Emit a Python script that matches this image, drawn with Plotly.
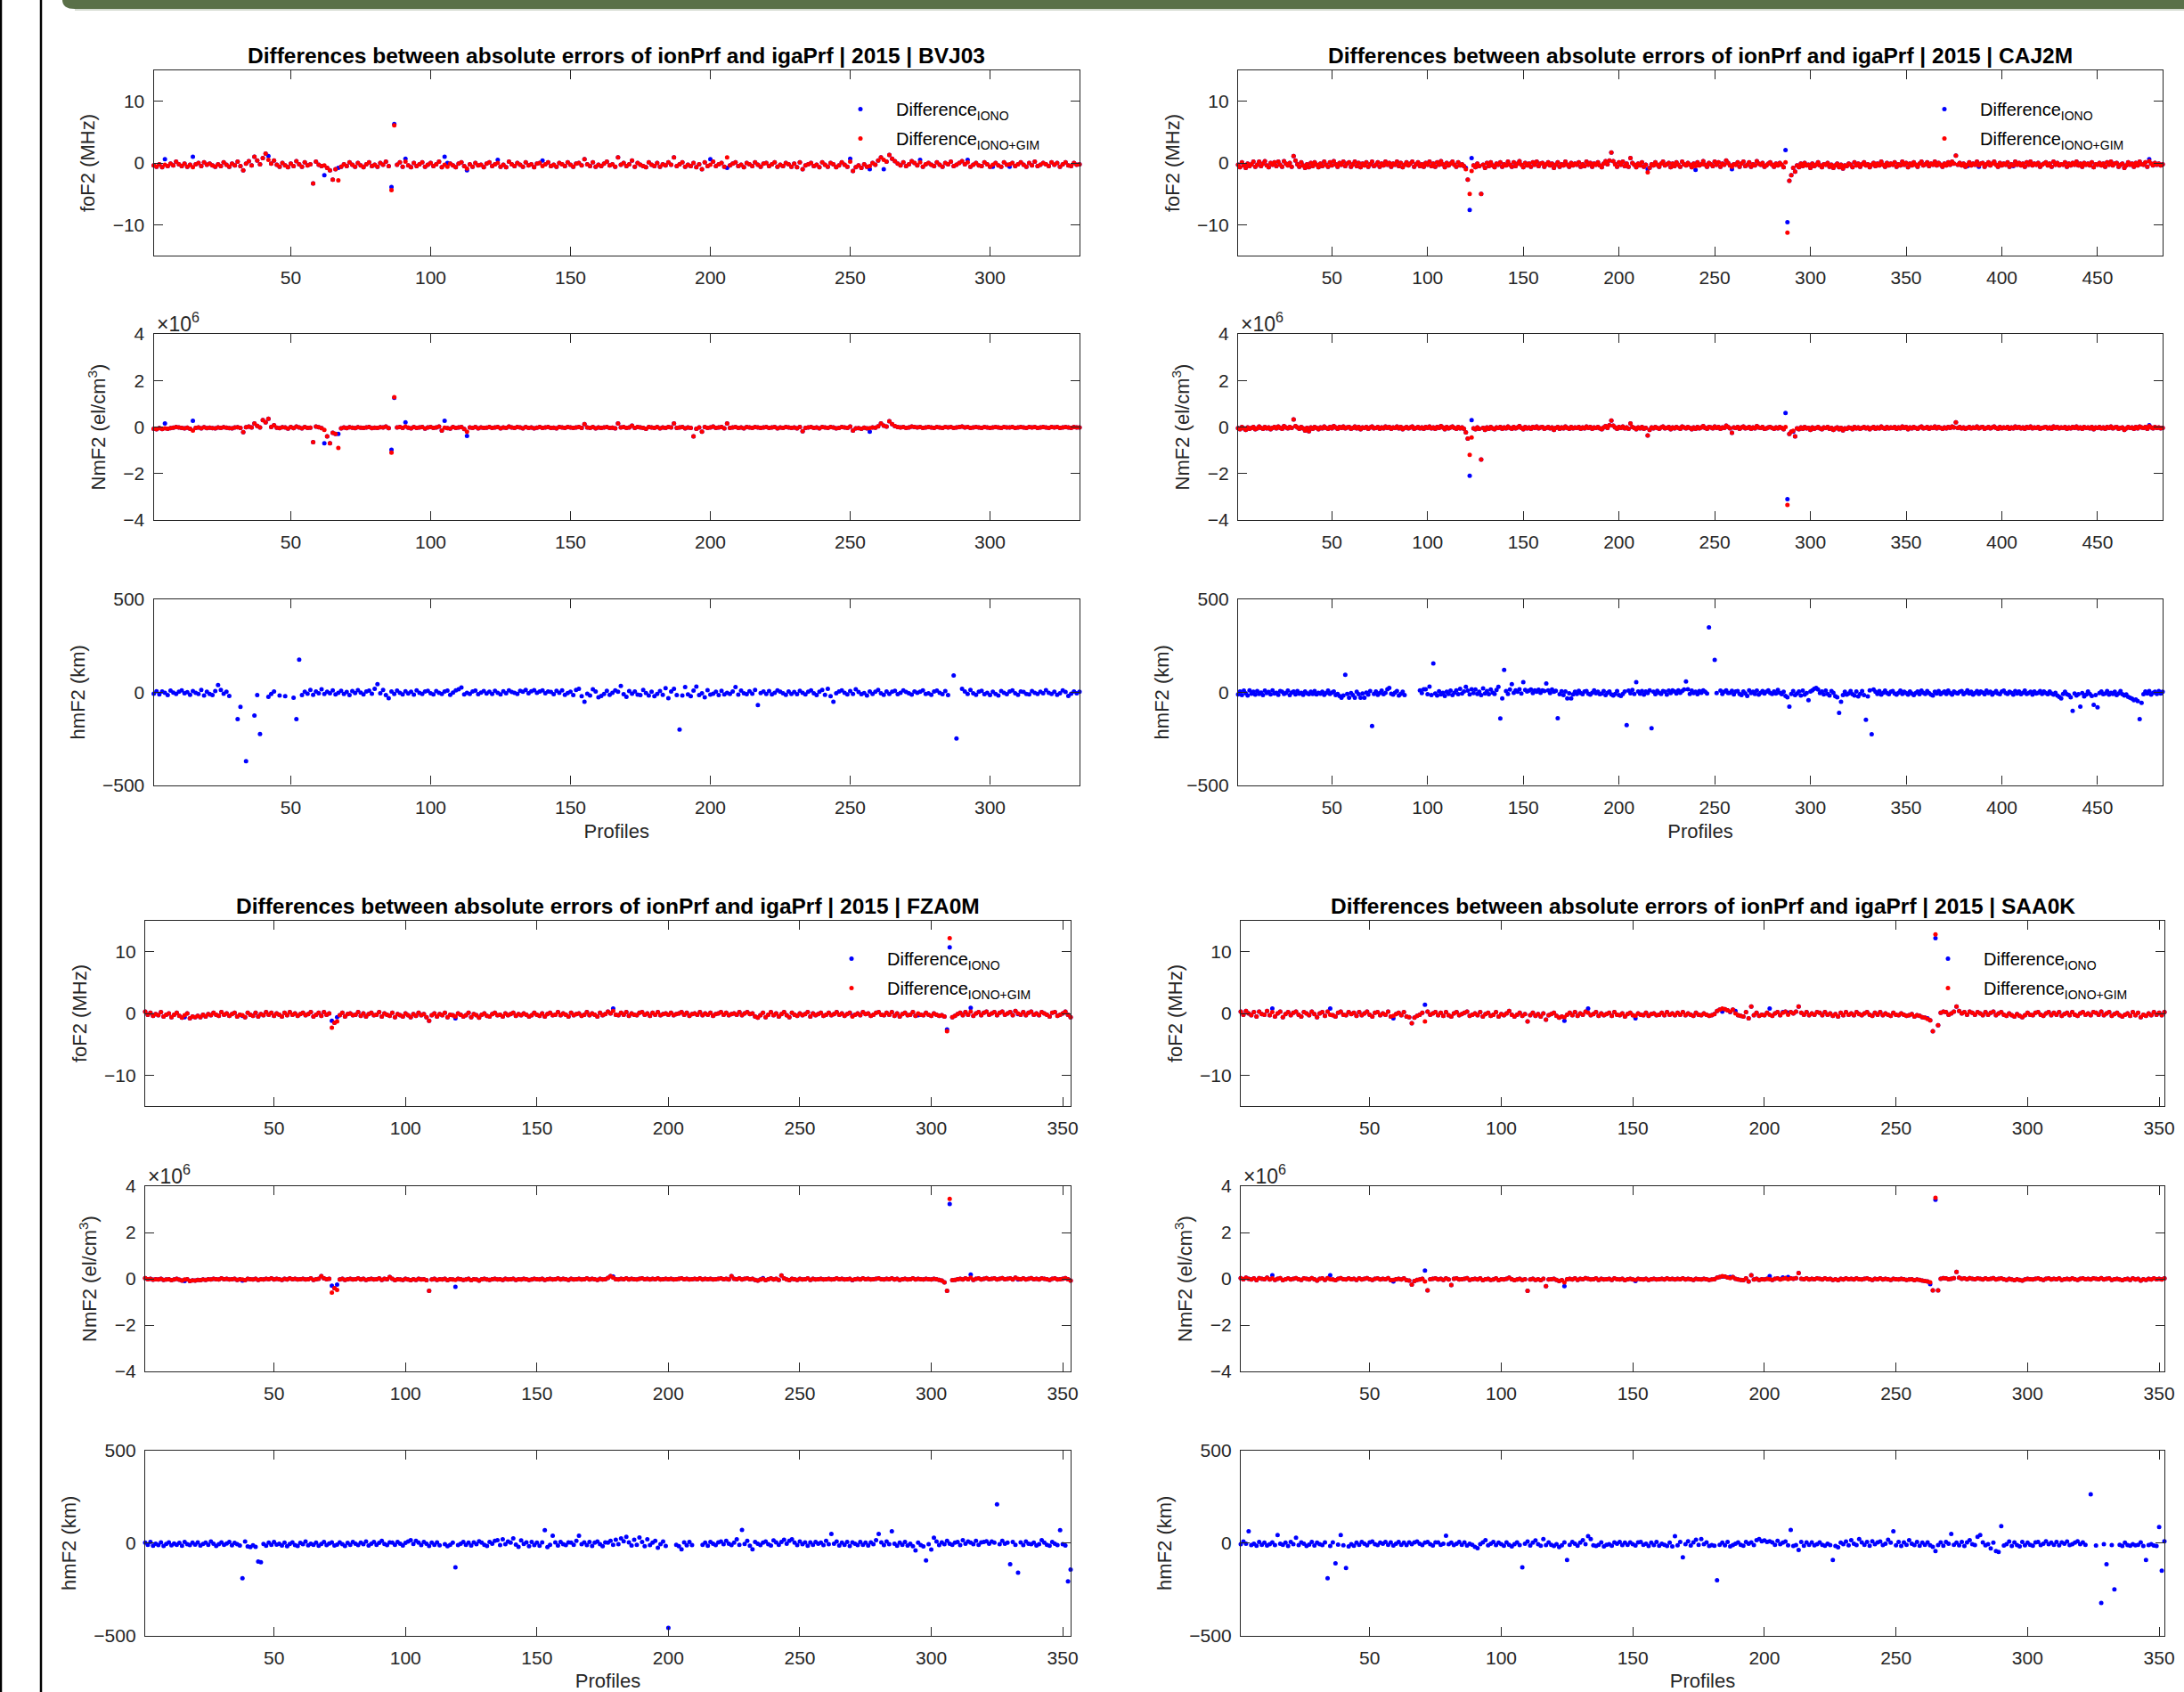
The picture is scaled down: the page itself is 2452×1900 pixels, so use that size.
import plotly.graph_objects as go

W, H = 2452, 1900
YEAR = 2015
STATIONS = ["BVJ03", "CAJ2M", "FZA0M", "SAA0K"]

# ---------------- DATA ----------------
# foF2 differences in 0.1 MHz, NmF2 differences in 0.01e6 el/cm3, hmF2 differences in km.
# *_GIM = Difference IONO+GIM (red). *_IONO_DIFF = profiles where Difference IONO (blue)
# is visibly different from the red value (elsewhere the two coincide).

BVJ03_FOF2_GIM = [
 -4,-6,-2,-7,-3,-5,-1,-4,2,-2,-5,-1,-6,-3,-7,-2,0,-5,1,-3,
 -1,-4,-6,-2,-5,1,-3,-6,-1,-4,2,-5,-12,-1,3,-4,10,4,-2,8,
 15,5,-1,4,-3,-6,0,-4,-7,-1,-5,3,-2,-6,1,-4,-2,-33,2,-3,
 -5,-4,-8,-12,-27,-10,-28,-6,-2,-5,1,-3,-6,0,-4,-7,-2,1,-5,-3,
 -6,0,-3,2,-5,-44,61,-3,1,-6,2,-4,-7,0,-5,-2,1,-6,-3,0,
 -5,-2,2,-7,-3,-6,-1,-4,-7,-1,1,-5,-9,-2,-6,0,-4,-3,-7,-1,
 1,-5,-2,0,-6,-3,-7,2,-2,-5,0,-3,-6,1,-4,-2,-7,-1,0,-5,
 -2,1,-5,-3,-6,0,-2,-5,1,-3,-6,-1,0,-4,6,-2,-5,1,-6,-3,
 -5,-1,2,-4,-2,-6,9,-3,0,-5,-2,4,-6,0,-3,-5,-7,1,-3,-5,
 0,-6,-2,-4,1,-3,9,-5,-2,1,-6,-3,-5,0,-7,-2,-10,1,-5,-3,
 2,-5,-2,0,-6,9,-4,-1,1,-5,-3,-7,0,-2,-5,1,-3,-6,-1,0,
 -5,-2,1,-6,-3,-5,0,-2,-6,-1,-7,1,-10,-4,-2,0,-5,-3,-7,1,
 -3,-6,0,-2,-7,-4,1,-3,-6,2,-13,-7,-4,-8,-2,-6,-5,0,-3,4,
 9,5,2,13,7,3,-1,-4,1,-5,-2,3,0,-4,1,-6,-2,0,-3,-5,
 1,-3,-6,0,-2,2,-5,-3,0,3,-2,1,-6,-3,0,-4,-5,1,-2,-6,
 -3,0,-4,-6,1,-3,-2,0,-5,-2,1,-3,-6,0,-4,2,-5,-3,0,-2,
 -5,1,-3,0,-6,-2,1,-4,-5,0,-3,-2]
BVJ03_FOF2_IONO_DIFF = {5: 6, 15: 10, 27: -3, 42: 11, 62: -20, 67: -8, 86: -39, 87: 63,
                        91: 7, 105: 10, 106: 0, 113: -12, 124: 5, 140: 4, 200: 6, 206: -8,
                        250: 7, 257: -10, 262: -10, 275: 5, 292: 5, 301: -6, 307: -6}
BVJ03_NMF2_GIM = [
 -8,-10,-5,-9,-6,-8,-5,-3,0,-2,-4,-6,-3,-8,-15,-4,-2,-6,-1,-5,
 -3,-5,-6,-2,-4,-1,-3,-5,-6,-2,-1,-4,-22,-1,2,-2,15,5,-2,30,
 20,35,0,8,-3,-5,-1,-2,-7,0,-5,2,-2,-6,0,-4,-3,-65,2,-1,
 -5,-12,-40,-70,-25,-30,-90,-6,-2,-5,-1,-3,-5,-1,-3,-4,-2,0,-5,-3,
 -4,-1,-2,2,-5,-110,128,-2,0,-4,2,-3,-6,0,-4,-2,0,-7,-2,0,
 -4,-2,2,-15,-3,-5,-7,0,-4,-2,0,-9,-20,-2,-4,0,-6,-2,-4,-3,
 0,-4,-2,0,-6,-2,-4,2,-2,-4,0,-2,-6,0,-4,-2,-6,-3,0,-4,
 -2,0,-4,-3,-6,0,-2,-4,0,-2,-4,-2,0,-4,12,-2,-4,0,-6,-2,
 -4,-2,0,-4,-3,-6,15,-2,0,-4,-2,6,-4,0,-2,-4,-8,0,-2,-4,
 0,-6,-2,-4,0,-2,15,-4,-2,0,-6,-2,-4,-40,-8,-2,-20,0,-4,-2,
 2,-4,-2,0,-6,15,-4,-2,0,-4,-2,-6,0,-2,-4,0,-2,-4,-2,0,
 -4,-2,0,-6,-2,-4,0,-2,-4,-2,-6,0,-18,-4,-2,0,-4,-2,-6,0,
 -2,-4,0,-2,-6,-4,0,-2,-4,2,-15,-6,-5,-8,-3,-6,-5,-2,-3,3,
 15,6,2,25,12,4,0,-2,0,-4,-2,2,0,-2,0,-4,-2,0,-2,-4,
 0,-2,-4,0,-2,0,-4,-2,0,2,-2,0,-4,-2,0,-2,-4,0,-2,-4,
 -2,0,-2,-4,0,-2,-2,0,-4,-2,0,-2,-4,0,-2,0,-4,-2,0,-2,
 -4,0,-2,0,-4,-2,0,-2,-4,0,-2,-2]
BVJ03_NMF2_IONO_DIFF = {5: 15, 15: 27, 62: -70, 67: -30, 86: -98, 87: 125, 91: 20,
                        105: 27, 113: -38, 257: -20}
BVJ03_HMF2 = [
 -8,5,-12,3,-4,-15,8,-2,-10,2,10,-6,0,-14,6,-3,-9,12,-18,2,
 -10,-16,6,38,12,-8,2,-20,None,None,-145,-79,None,-372,None,None,-126,-15,-225,None,
 None,-25,-10,4,None,-18,None,-22,None,None,-30,-145,175,-16,2,-8,12,-14,3,-6,
 15,-9,2,-6,10,-12,-3,7,-10,1,-15,6,-5,11,-2,-12,3,8,-8,18,
 43,-6,12,-15,-32,4,-9,8,-4,-12,5,-7,2,-13,9,-3,-10,3,7,-6,
 -12,6,-3,-10,4,8,-14,-2,10,15,25,-12,-4,-9,3,8,-11,-2,6,-7,
 2,-10,7,-4,-12,5,-6,10,1,-3,-9,7,2,12,-6,5,11,-4,3,9,
 -6,4,1,-11,7,-3,9,-14,-5,2,-16,12,18,-22,-51,-8,-18,15,3,-28,
 -20,-10,7,-14,-3,9,2,34,-11,-25,6,-8,3,-13,-16,12,-5,-18,2,-22,
 -10,6,-14,22,-32,3,18,-15,-202,-18,28,-12,-22,8,30,-15,-6,-28,11,-13,
 -8,2,-16,7,-12,-3,-10,3,28,-13,8,-6,-11,5,-8,12,-70,-5,3,-9,
 6,-12,-3,9,2,-6,-14,4,-9,1,-11,7,-3,-12,2,9,-6,-16,2,12,
 -14,18,-22,-51,-6,3,9,-4,-12,6,-9,15,1,-11,-5,-18,4,-9,2,12,
 -6,-14,4,-9,2,7,-11,-3,9,1,-6,-13,4,-4,2,10,-9,-6,-14,3,
 8,-4,-11,6,-16,None,90,-249,None,18,3,-9,12,-6,-14,2,7,-11,-4,-16,
 2,-9,-18,6,-4,-11,3,9,-6,-14,4,1,-9,-12,6,-3,-10,2,-6,11,
 -4,-9,2,-14,-6,9,1,-20,-8,4,-6,2]

CAJ2M_FOF2_GIM = [
 -3,-7,1,-4,-8,-1,-5,-2,2,-6,-3,2,-5,-1,3,-4,-7,0,-3,1,
 -5,2,-3,-6,3,-1,-4,0,-6,11,4,-2,-6,1,-4,-8,-2,-7,0,-5,
 1,-3,-7,-1,-5,2,-3,-6,1,-4,3,-2,-6,0,-3,2,-5,-1,1,-6,
 -2,2,-5,0,-7,-1,-4,1,-6,-2,2,-5,-3,1,-6,-1,-4,2,-3,0,
 -6,-1,-3,2,-5,0,-7,-3,1,-4,-1,2,-6,-2,1,-5,-2,-6,0,-3,
 2,-5,-1,-6,1,-3,3,-2,-7,0,-4,-1,2,-3,-6,1,-4,-2,-5,-10,
 -27,-50,-13,-4,-7,-1,-5,-50,-3,-8,0,-5,1,-4,-7,-1,-3,1,-6,-2,
 -4,2,-3,-6,1,-5,-1,3,-3,-7,0,-4,-1,-6,1,-3,2,-5,-1,0,
 -6,-2,1,-4,-1,-8,-3,1,-6,-2,-4,2,-3,-6,0,-4,-1,-3,1,-6,
 -2,-5,2,-3,0,-6,-1,-3,1,-4,-7,-1,3,-2,4,17,3,-2,-6,1,
 -3,2,-5,-1,-6,8,0,-3,-7,-1,-4,1,-6,-3,-15,-8,-2,-4,1,-3,
 -6,-1,2,-4,-2,0,-7,-1,-5,1,-3,-6,2,-2,-4,0,-3,-7,-1,-5,
 1,-4,-2,3,-3,-6,0,-2,-5,2,-3,1,-6,-1,-3,4,0,-4,-6,-2,
 -3,1,-6,-1,2,-5,-3,1,-6,-2,-4,3,-1,-3,0,-6,-4,-1,1,-3,
 -6,-1,-4,0,-3,-7,1,-113,-29,-20,-8,-14,-4,-7,-1,-5,0,-4,-3,-8,
 -1,-5,-3,1,-4,-7,-2,-3,0,-6,-3,-8,-4,-1,-7,-3,-9,-4,-5,-1,
 -3,-7,1,-4,-1,-6,-2,1,-4,-2,-7,-3,0,-5,-1,-4,2,-3,-6,0,
 -4,-1,-3,1,-6,-2,-4,2,-3,0,-7,-1,-4,1,-3,-6,-1,2,-4,-2,
 1,-5,-1,-3,2,-4,0,-3,-6,-1,-4,1,-3,2,-1,12,-3,0,-4,-1,
 -6,-3,1,-4,-1,-3,2,-4,-1,0,-6,-2,1,-4,-1,2,-3,-6,0,-4,
 -1,-3,1,-6,-2,-4,2,-3,0,-4,-1,-6,1,-3,2,-4,-1,-3,0,-6,
 -3,-1,1,-4,-1,-6,2,-3,0,-4,-2,-3,1,-6,-1,-4,0,-3,2,-4,
 -1,-6,0,-3,-1,-4,1,-7,-2,-3,0,-4,-1,-6,1,-3,2,-4,-1,0,
 -6,-3,-1,-8,-4,1,-3,-1,-6,0,-4,2,-2,-3,1,-6,3,-1,-4,0,
 -3,-1,-4,-2]
CAJ2M_FOF2_IONO_DIFF = {25: 3, 120: -8, 122: -76, 123: 8, 152: -4, 158: -5, 215: -10,
                        240: -11, 259: -10, 287: 21, 288: -96, 291: -8, 382: -5, 388: -6,
                        406: -5, 464: -8, 477: 6}
CAJ2M_NMF2_GIM = [
 -5,-10,0,-6,-12,-2,-8,-4,0,-10,-6,2,-4,-8,0,-6,-2,-10,-4,0,
 -6,2,-4,-8,4,-2,-6,0,-4,33,4,-2,-8,0,-6,-15,-4,-18,-2,-8,
 0,-4,-10,-2,-6,2,-4,-8,0,-6,4,-2,-8,0,-4,2,-6,-2,0,-8,
 -4,2,-6,0,-10,-2,-4,0,-8,-2,2,-6,-4,0,-8,-2,-6,2,-4,0,
 -8,-2,-4,2,-6,0,-10,-4,0,-6,-2,2,-8,-4,0,-6,-2,-8,0,-4,
 2,-6,-2,-8,0,-4,4,-2,-10,0,-6,-2,2,-4,-8,0,-6,-2,-8,-23,
 -50,-120,-45,-6,-10,-2,-8,-140,-4,-12,-2,-8,0,-6,-10,-2,-4,0,-8,-2,
 -6,2,-4,-8,0,-6,-2,4,-4,-10,0,-6,-2,-8,0,-4,2,-6,-2,0,
 -8,-4,0,-6,-2,-12,-4,0,-8,-2,-6,2,-4,-8,0,-6,-2,-4,0,-8,
 -2,-6,2,-4,0,-8,-2,-4,0,-6,-10,-2,4,-4,8,28,6,-2,-8,0,
 -4,2,-6,-2,-8,15,0,-4,-10,-2,-6,0,-8,-4,-36,-12,-2,-6,0,-4,
 -8,-2,2,-6,-4,0,-10,-2,-6,0,-4,-8,2,-2,-6,0,-4,-10,-2,-8,
 0,-6,-2,4,-4,-8,0,-2,-6,2,-4,0,-8,-2,-4,6,0,-6,-25,-2,
 -4,0,-8,-2,2,-6,-4,0,-8,-2,-6,4,-2,-4,0,-8,-6,-2,0,-4,
 -8,-2,-6,0,-4,-10,0,-335,-30,-20,-16,-40,-6,-10,-2,-8,0,-6,-4,-12,
 -2,-8,-4,0,-6,-10,-2,-4,0,-8,-4,-12,-6,-2,-10,-4,-14,-6,-8,-2,
 -4,-10,0,-6,-2,-8,-4,0,-6,-2,-10,-4,0,-8,-2,-6,2,-4,-8,0,
 -6,-2,-4,0,-8,-2,-6,2,-4,0,-10,-2,-6,0,-4,-8,-2,2,-6,-4,
 0,-8,-2,-4,2,-6,0,-4,-8,-2,-6,0,-4,2,-2,20,-4,0,-6,-2,
 -8,-4,0,-6,-2,-4,2,-6,-2,0,-8,-4,0,-6,-2,2,-4,-8,0,-6,
 -2,-4,0,-8,-2,-6,2,-4,0,-6,-2,-8,0,-4,2,-6,-2,-4,0,-8,
 -4,-2,0,-6,-2,-8,2,-4,0,-6,-2,-4,0,-8,-2,-6,0,-4,2,-6,
 -2,-8,0,-4,-2,-6,0,-10,-2,-4,0,-6,-2,-8,0,-4,2,-6,-2,0,
 -8,-4,-2,-12,-6,0,-4,-2,-8,0,-6,2,-2,-4,0,-8,4,-2,-6,0,
 -4,-2,-6,-4]
CAJ2M_NMF2_IONO_DIFF = {122: -210, 123: 30, 287: 60, 288: -310, 291: -20, 477: 8}
CAJ2M_HMF2 = [
 -12,3,-15,8,-6,-18,10,-8,2,-13,6,-10,-2,-16,8,-5,1,-12,9,-7,
 -3,-14,6,2,-10,-5,8,-15,-2,3,-12,6,-8,-3,-14,4,-6,-11,2,-9,
 6,-12,-3,-8,2,-14,-5,8,-10,-2,3,-16,-10,-20,-30,-18,93,-9,-30,-5,
 -15,-30,2,-11,-30,-7,-30,-2,-13,6,-182,-9,3,-14,-5,8,-11,-3,15,23,
 -8,-13,-2,6,-18,-9,2,-15,None,None,None,None,None,None,None,10,-5,15,15,-11,
 30,-15,155,-7,-18,5,-12,-3,-20,2,-9,8,-15,-4,10,-11,18,-7,3,29,
 8,-12,15,-5,14,-9,2,-15,20,-7,6,-11,14,-2,-9,12,29,-141,-33,120,
 6,-9,14,43,-4,10,2,15,-7,54,12,3,8,14,-5,10,2,13,-3,9,
 6,47,10,-5,14,2,7,-140,-11,5,-15,3,-33,-6,-33,-12,2,-9,7,-5,
 -11,3,6,-8,-13,-3,9,-6,2,-11,-7,6,-15,-3,3,-12,-18,-9,6,-15,
 -20,-10,3,-178,8,-6,12,-9,54,3,-8,6,-13,4,-5,9,-194,2,-11,7,
 -3,-9,6,2,-13,8,-5,10,3,-7,9,-3,6,14,58,15,-9,8,-5,2,
 -11,6,-3,9,2,-7,349,None,None,174,-5,None,8,-9,2,10,-5,-3,7,-12,
 3,6,-9,-15,4,-7,-20,10,-5,2,-9,8,-13,-3,6,-7,2,10,-5,-9,
 4,-7,12,-3,-11,2,-20,-28,-78,-9,6,-15,-7,3,-18,8,-13,-5,-43,3,
 10,18,23,14,-5,3,-12,8,-9,-18,6,-3,-22,-28,-112,-52,-15,2,-13,-7,
 6,-11,-18,3,-23,-9,6,-15,-149,-23,10,-227,14,2,-9,6,-13,-3,8,-5,
 -11,2,6,-7,-13,-3,8,-9,2,-5,-13,4,-7,-15,-5,3,-11,8,-3,-9,
 6,-5,-13,-18,2,-7,6,-11,-3,3,-9,8,-5,-13,4,-3,-7,2,6,-11,
 -3,9,-7,2,-13,-5,6,-9,3,-2,-11,8,-5,2,-13,-3,6,-7,-11,3,
 8,-5,-9,2,-3,-13,6,-7,3,-11,-3,8,-9,-5,2,-13,4,-7,-3,6,
 -9,3,-5,-11,4,-7,-13,-3,-18,-25,-33,-9,2,-11,-15,-28,-101,-7,-18,-11,
 -78,-5,-23,-13,3,-9,-20,-68,-15,-81,-5,3,-11,-7,6,-13,-3,-9,2,-15,
 -7,6,-11,-18,-12,-25,-30,-35,-43,-40,-48,-145,-58,-11,3,-7,6,-13,-3,2,
 -9,6,-7,2]

FZA0M_FOF2_GIM = [
 3,-2,1,-4,-1,-3,2,-5,-2,0,-6,-2,1,-4,-7,-3,0,-8,-5,-6,
 -4,-6,-2,-5,-1,-3,1,-2,-4,2,-2,0,-4,-1,1,-5,-2,-3,-6,1,
 -2,-4,1,-5,-1,-3,2,-2,1,-4,0,-2,-5,1,-3,2,-2,0,-4,-1,
 1,-3,-1,2,-5,-2,1,-4,2,-2,0,-23,-15,-13,-3,1,-5,-1,0,-3,
 -2,2,-4,0,-5,-1,1,-3,-2,2,-5,0,-2,-4,1,-6,-1,-3,-5,0,
 -3,-6,-1,-4,1,-3,-1,-6,-12,-3,0,-5,-1,-3,1,-6,-2,-3,-5,0,
 -2,-5,-3,1,-6,-1,-3,-7,-2,0,-4,-5,-1,1,-3,-2,-5,0,-3,-1,
 1,-4,-1,-3,0,-2,-5,-3,1,-2,-4,0,-5,-1,1,-3,-2,2,-3,0,
 -2,-5,1,-3,-1,0,-4,-2,2,-3,0,-2,-5,1,-3,-1,3,0,4,-2,
 -3,1,-2,2,-4,0,-2,-3,1,2,-2,0,-4,1,-2,2,-3,-1,0,-2,
 1,-3,-1,0,2,-2,1,-4,-1,0,-2,2,-3,0,-2,1,-4,-1,0,2,
 -2,1,-3,-1,0,-2,2,-3,0,2,-1,0,-5,-7,-3,1,-6,-2,2,-3,
 0,-5,-1,2,-3,-6,1,-2,-4,0,-3,-1,2,-5,0,-3,-1,1,-4,-2,
 1,-3,-1,2,-2,0,-4,-1,1,-5,-2,0,-3,2,-1,0,-4,-2,1,2,
 -2,-3,1,-2,2,-4,0,-5,-1,1,-3,-2,2,-4,0,-2,-3,1,-2,-4,
 0,-2,-4,-3,-5,-29,122,-6,-4,-1,1,-3,2,-2,3,-4,0,2,-3,1,
 3,-2,0,2,-3,1,3,-2,0,2,-3,4,0,-2,2,-3,1,3,-2,0,
 -3,2,0,-2,-5,1,2,-4,-2,0,3,-2,-6]
FZA0M_FOF2_IONO_DIFF = {16: -6, 38: -4, 72: -12, 74: -6, 119: -8, 179: 8, 236: 1,
                        270: -4, 295: -3, 306: -26, 307: 107, 315: 9, 333: -1}
FZA0M_NMF2_GIM = [
 3,-2,0,-4,-2,-3,0,-5,-3,-2,-6,-3,0,-4,-8,-3,-2,-10,-7,-8,
 -5,-6,-3,-5,-2,-3,0,-2,-3,2,-2,0,-3,-2,0,-5,-2,-3,-6,0,
 -2,-3,0,-5,-2,-3,0,-2,2,-3,0,-2,-5,0,-3,2,-2,0,-3,-2,
 0,-3,-2,2,-5,-2,0,12,2,-2,0,-60,-40,-48,-3,0,-5,-2,0,-3,
 -2,2,-3,0,-5,-2,0,-3,-2,2,-5,0,-2,8,0,-6,-2,-3,-5,0,
 -3,-6,-2,-5,0,-3,-2,-6,-52,-3,0,-5,-2,-3,0,-6,-2,-3,-5,0,
 -2,-5,-3,0,-6,-2,-3,-8,-2,0,-3,-5,-2,0,-3,-2,-5,0,-3,-2,
 0,-5,-2,-3,0,-2,-5,-3,0,-2,-3,0,-5,-2,0,-3,-2,2,-3,0,
 -2,-5,0,-3,-2,0,-3,-2,2,-3,0,-2,-5,0,-3,-2,4,12,5,-2,
 -3,0,-2,2,-3,0,-2,-3,0,2,-2,0,-3,0,-2,2,-3,-2,0,-2,
 0,-3,-2,0,2,-2,0,-3,-2,0,-2,2,-3,0,-2,0,-3,-2,0,2,
 -2,0,-3,12,0,-2,2,-3,0,2,-2,0,-5,-8,-3,0,-6,-2,2,-3,
 0,-5,14,2,-3,-6,0,-2,-5,0,-3,-2,2,-5,0,-3,-2,0,-3,-2,
 0,-3,-2,2,-2,0,-3,-2,0,-5,-2,0,-3,2,-2,0,-3,-2,0,2,
 -2,-3,0,-2,2,-3,0,-5,-2,0,-3,-2,2,-3,0,-2,-3,0,-2,-3,
 0,-2,-5,-8,-15,-52,345,-6,-5,-2,0,-3,2,-2,5,-5,0,2,-3,0,
 3,-2,0,2,-3,0,3,-2,0,2,-3,5,0,-2,2,-3,0,3,-2,0,
 -3,2,0,-2,-5,0,2,-3,-2,0,3,-2,-8]
FZA0M_NMF2_IONO_DIFF = {16: -10, 38: -8, 72: -30, 74: -25, 119: -35, 179: 10, 236: 3,
                        270: -6, 307: 323, 315: 18, 333: -3}
FZA0M_HMF2 = [
 2,-9,6,-14,-3,-11,3,-16,-5,4,-12,-2,-9,1,-14,6,-6,-11,2,-8,
 4,-13,-5,2,-10,8,-3,-15,-6,3,-9,-2,6,-12,1,-6,-13,-189,8,-18,
 -22,-12,-20,-100,-103,-5,-14,2,-10,6,-8,-3,-13,2,-17,-5,4,-11,-15,1,
 -6,8,-12,-3,-9,2,-14,-5,6,-11,-2,3,-13,-8,4,-6,-15,1,-9,6,
 -3,-11,2,-6,8,-13,-3,6,-9,1,12,-5,-11,4,2,-9,6,-3,-13,1,
 8,15,-5,12,2,-11,6,-3,-15,2,-9,4,-12,None,-6,-17,-9,2,-131,-11,
 -3,6,-9,2,-13,4,-6,10,2,-9,-15,6,-3,12,16,-11,20,-6,8,2,
 25,-8,-20,14,-5,3,-17,6,-11,2,-14,4,69,-22,-9,40,3,-13,6,-6,
 -11,4,2,-9,12,40,-6,3,-11,6,-15,2,8,-6,-17,4,2,12,-9,18,
 -6,25,10,34,3,-13,18,-9,30,6,-17,20,-11,2,12,-25,-6,8,-15,-457,
 None,None,-9,-17,-34,3,-12,6,-11,None,None,None,-9,2,-14,6,-4,-11,3,8,
 -6,12,-3,-11,2,20,-9,71,-5,12,-14,-34,6,-3,-11,2,8,-6,-13,14,
 3,-9,6,18,-3,12,20,2,-11,8,-6,3,-14,4,-9,6,-3,2,-11,12,
 -6,49,-3,8,-13,2,-9,6,-15,3,-3,-11,6,-9,2,-13,4,-6,15,49,
 3,-11,8,-6,63,-3,-14,2,-9,6,-13,-3,-17,-40,2,-11,-18,-94,-6,-35,
 29,8,-11,3,-6,12,-3,-9,2,6,-11,15,-3,8,2,-6,12,-9,3,6,
 10,-3,8,2,209,-6,12,-3,2,-114,6,-9,-160,3,-11,8,-3,-6,2,-13,
 -6,15,2,-9,-14,6,-3,-11,69,-6,-13,-206,-143]

SAA0K_FOF2_GIM = [
 3,-2,4,0,-3,2,-5,3,-1,-2,4,-3,2,-5,0,3,-6,-1,2,-3,
 1,3,-2,-5,2,0,-3,3,-1,-6,0,2,-4,3,-2,-3,-5,1,3,-2,
 -3,2,-1,1,-4,2,-3,0,3,-2,-5,1,2,-3,0,-2,3,-5,-4,-1,
 1,-3,2,-5,-6,-16,-7,-4,-2,1,-13,3,-2,0,2,-3,1,-4,2,-3,
 -5,0,2,-3,-1,1,3,-4,-2,0,-3,2,-5,-1,1,-4,-2,2,-5,-1,
 -3,0,4,-2,-5,-2,1,-4,-1,-13,-3,1,-4,-1,-5,0,-10,-3,-1,1,
 -4,-7,-5,-6,-2,1,-3,2,-4,0,-2,3,1,-3,-1,2,-4,0,-3,-1,
 1,-4,2,-2,-3,0,-5,-1,1,-3,-4,0,-2,-3,1,-4,-1,0,-3,-2,
 1,-3,2,-2,0,-3,1,-2,2,-3,0,-2,-4,1,-2,-3,0,-2,-4,-3,
 -1,4,6,8,7,5,3,6,0,-3,-4,-5,2,-8,11,-3,1,-4,-2,-3,
 1,-2,-4,0,2,-3,1,3,-2,2,0,3,11,1,-2,2,-3,0,-2,2,
 1,-3,2,-2,0,-4,-1,-5,1,-3,2,-2,0,-3,2,-1,-3,0,2,-2,
 -4,1,-2,2,-3,0,-2,-4,1,-2,-3,0,-2,-4,-3,-1,-5,-3,-4,-6,
 -7,-9,-11,-29,128,-19,1,3,2,-2,0,3,11,4,0,2,-2,3,1,-2,
 2,0,-3,2,-2,1,3,-3,0,2,-2,-4,0,-3,-5,-1,-4,-6,-3,1,
 -2,-3,1,2,-2,-4,0,2,-3,1,-2,2,-4,-1,1,-3,2,-2,-4,0,
 2,-2,0,-3,2,1,-2,3,-3,0,2,-4,-1,1,-3,-5,-2,0,-4,2,
 -3,1,-6,-2,-4,0,-3,2,-2,1,-3,2]
SAA0K_FOF2_IONO_DIFF = {13: 8, 35: 8, 59: -8, 71: 14, 124: -12, 133: 8, 151: -8,
                        184: 3, 187: 2, 189: 4, 202: 8, 207: 2, 209: 1, 262: -8,
                        265: 122, 298: -6}
SAA0K_NMF2_GIM = [
 3,-2,5,0,-3,2,-6,3,0,-2,5,-3,2,-5,0,3,-6,-2,2,-3,
 0,3,-2,-5,2,0,-3,3,-2,-8,0,2,-5,3,-2,-3,-6,0,3,-2,
 -3,2,-2,0,-5,2,-3,0,3,-2,-5,0,2,-3,0,-2,3,-6,-5,-2,
 0,-3,2,-6,-8,-25,-10,-5,-3,0,-12,-50,-2,0,2,-3,0,-5,2,-3,
 -27,0,2,-3,-2,0,3,-5,-2,0,-3,2,-6,-2,0,-5,-3,2,-6,-2,
 -3,0,5,-2,-6,-3,0,-5,-2,-52,-3,0,-5,-2,-6,0,-32,-3,-2,0,
 -5,-10,-6,-15,-2,0,-3,2,-5,0,-2,3,0,-3,-2,2,-5,0,-3,-2,
 0,-5,2,-2,-3,0,-6,-2,0,-3,-5,0,-2,-3,0,-5,-2,0,-3,-2,
 0,-3,2,-2,0,-3,0,-2,2,-3,0,-2,-5,0,-2,-3,0,-2,-5,-3,
 -2,5,8,12,10,6,3,8,0,-3,-5,-6,2,-12,15,-3,0,-5,-2,-3,
 0,-2,-5,0,2,-3,0,3,-2,2,0,3,25,0,-2,2,-3,0,-2,2,
 0,-3,2,-2,0,-5,-2,-6,0,-3,2,-2,0,-3,2,-2,-3,0,2,-2,
 -5,0,-2,2,-3,0,-2,-5,0,-2,-3,0,-2,-5,-3,-2,-6,-3,-5,-8,
 -10,-12,-15,-50,350,-50,0,3,2,-2,0,3,30,5,0,2,-2,3,0,-2,
 2,0,-3,2,-2,0,3,-3,0,2,-2,-5,0,-3,-6,-2,-5,-8,-3,0,
 -2,-3,0,2,-2,-5,0,2,-3,0,-2,2,-5,-2,0,-3,2,-2,-5,0,
 2,-2,0,-3,2,0,-2,3,-3,0,2,-5,-2,0,-3,-6,-2,0,-5,2,
 -3,0,-8,-2,-5,0,-3,2,-2,0,-3,2]
SAA0K_NMF2_IONO_DIFF = {13: 15, 35: 15, 59: -12, 71: 36, 124: -32, 151: -10, 184: 10,
                        187: 8, 202: 12, 207: 6, 209: 8, 263: -23, 265: 341, 298: -8}
SAA0K_HMF2 = [
 -6,8,-3,63,-11,-4,-14,6,-9,2,-13,-6,4,-11,43,-3,-9,2,-15,6,
 -6,29,-11,3,-4,-15,-8,6,-13,2,-6,-11,4,-189,-16,3,-109,-8,43,-12,
 -134,-18,-6,-14,2,-9,6,-4,-12,3,8,-6,-11,2,-3,6,-9,3,-13,-4,
 6,-9,2,-11,4,-6,3,8,-4,-11,2,6,-6,-13,3,4,-9,-3,40,-6,
 2,-11,-3,6,-9,3,-13,-4,-9,-20,-28,-6,3,16,-12,-4,6,-11,2,-6,
 -14,4,-9,-18,-6,3,-11,-131,-3,8,-13,2,14,-6,-14,22,-11,3,-9,-16,
 -6,-22,-12,3,-91,-10,6,-4,-14,2,16,-6,37,22,-12,-16,-9,3,-18,-10,
 -6,-14,3,-4,6,-11,2,-9,4,-6,-13,3,6,-9,-3,-16,2,-11,6,-14,
 -3,-9,-16,2,-18,37,-12,6,-77,-6,10,-13,3,18,-9,22,-6,3,-16,-11,
 -14,-200,-9,2,-12,6,-18,-11,-3,4,-9,-14,6,-4,3,-11,16,22,10,14,
 6,10,3,-9,12,-6,2,8,-12,71,-16,-11,-37,6,-14,3,-9,4,-12,-6,
 3,-9,-14,-3,-11,-91,-16,-23,2,-6,8,-12,16,-4,-11,22,3,-9,6,-14,
 10,-6,3,8,-11,-3,18,2,63,-12,6,-16,3,-9,16,-4,-11,6,-14,2,
 -9,4,-12,-20,-43,-11,3,-14,6,-4,49,-9,2,-12,6,-16,3,16,-6,-11,
 34,43,3,-12,-6,-29,2,-43,-48,91,-13,-6,8,-16,3,-11,-18,6,-12,2,
 -9,-14,3,6,-11,-3,10,-6,2,-9,6,-12,3,-4,8,-11,-6,2,10,-6,
 3,-9,None,263,None,-13,None,-323,-6,-114,None,-11,-249,None,-9,-16,2,-11,-14,-6,
 -12,-9,3,-16,-91,-11,-6,-13,-16,86,-149,9]

DATA = {
    "BVJ03": (BVJ03_FOF2_GIM, BVJ03_FOF2_IONO_DIFF, BVJ03_NMF2_GIM, BVJ03_NMF2_IONO_DIFF, BVJ03_HMF2),
    "CAJ2M": (CAJ2M_FOF2_GIM, CAJ2M_FOF2_IONO_DIFF, CAJ2M_NMF2_GIM, CAJ2M_NMF2_IONO_DIFF, CAJ2M_HMF2),
    "FZA0M": (FZA0M_FOF2_GIM, FZA0M_FOF2_IONO_DIFF, FZA0M_NMF2_GIM, FZA0M_NMF2_IONO_DIFF, FZA0M_HMF2),
    "SAA0K": (SAA0K_FOF2_GIM, SAA0K_FOF2_IONO_DIFF, SAA0K_NMF2_GIM, SAA0K_NMF2_IONO_DIFF, SAA0K_HMF2),
}

Y_LABELS = ["foF2 (MHz)", "NmF2 (el/cm<sup>3</sup>)", "hmF2 (km)"]
Y_RANGES = [(-15, 15), (-4, 4), (-500, 500)]
Y_TICKS = [[-10, 0, 10], [-4, -2, 0, 2, 4], [-500, 0, 500]]
X_TICKS = [50, 100, 150, 200, 250, 300, 350, 400, 450]
NAME_IONO = "Difference<sub>IONO</sub>"
NAME_GIM = "Difference<sub>IONO+GIM</sub>"

# ---------------- LAYOUT GEOMETRY (pixels) ----------------
COL_X = {"BVJ03": (172.6, 1212), "CAJ2M": (1390, 2428), "FZA0M": (163, 1202), "SAA0K": (1393, 2430)}
TOP_ROWS = [(79, 287), (375, 584), (673, 881.5)]
BOT_ROWS = [(1034, 1242), (1332, 1540), (1628.5, 1837)]
ROWS = {"BVJ03": TOP_ROWS, "CAJ2M": TOP_ROWS, "FZA0M": BOT_ROWS, "SAA0K": BOT_ROWS}
TITLE_Y = {"BVJ03": 63, "CAJ2M": 63, "FZA0M": 1018, "SAA0K": 1018}
LEGEND_POS = {"BVJ03": (1006, 123), "CAJ2M": (2223, 123), "FZA0M": (996, 1077), "SAA0K": (2227, 1077)}
LEG_ITEMW = 70

BLUE = "rgb(0,0,255)"
RED = "rgb(255,0,0)"
AX = "#262626"
FONT = "Liberation Sans, Arial, Helvetica, sans-serif"
MS = 5


def px(x):
    return x / W


def py(y):
    return 1 - y / H


def scaled(vals, f):
    return [None if v is None else v * f for v in vals]


def with_overrides(base, overrides):
    out = list(base)
    for p, v in overrides.items():
        out[p - 1] = v
    return out


fig = go.Figure()
layout = {}
annotations = []

for s, st in enumerate(STATIONS):
    fo_gim, fo_diff, nm_gim, nm_diff, hm = DATA[st]
    n = len(fo_gim)
    prof = list(range(1, n + 1))
    fo_iono = with_overrides(fo_gim, fo_diff)
    nm_iono = with_overrides(nm_gim, nm_diff)
    series = [
        [(scaled(fo_iono, 0.1), BLUE, NAME_IONO), (scaled(fo_gim, 0.1), RED, NAME_GIM)],
        [(scaled(nm_iono, 0.01), BLUE, NAME_IONO), (scaled(nm_gim, 0.01), RED, NAME_GIM)],
        [(hm, BLUE, NAME_IONO)],
    ]
    leg = "legend" if s == 0 else f"legend{s + 1}"
    x0, x1 = COL_X[st]
    for r in range(3):
        k = s * 3 + r + 1
        xa = "x" if k == 1 else f"x{k}"
        ya = "y" if k == 1 else f"y{k}"
        for j, (vals, col, name) in enumerate(series[r]):
            fig.add_trace(go.Scatter(
                x=prof, y=vals, mode="markers", name=name,
                marker=dict(color=col, size=MS, line=dict(width=0)),
                xaxis=xa, yaxis=ya, cliponaxis=False,
                showlegend=(r == 0), legend=leg,
                legendgroup=f"{st}-{'iono' if col == BLUE else 'gim'}",
            ))
        yt, yb = ROWS[st][r]
        common = dict(showline=True, linecolor=AX, linewidth=1.3, mirror="ticks",
                      ticks="inside", ticklen=10, tickwidth=1.3, tickcolor=AX,
                      showgrid=False, zeroline=False, automargin=False,
                      tickfont=dict(family=FONT, size=21, color=AX))
        xkey = "xaxis" if k == 1 else f"xaxis{k}"
        ykey = "yaxis" if k == 1 else f"yaxis{k}"
        layout[xkey] = dict(common, domain=[px(x0), px(x1)], anchor=ya, range=[1, n],
                            tickvals=[t for t in X_TICKS if t <= n], ticklabelstandoff=6)
        if r == 2:
            layout[xkey]["title"] = dict(text="Profiles", standoff=8,
                                         font=dict(family=FONT, size=22, color=AX))
        layout[ykey] = dict(common, domain=[py(yb), py(yt)], anchor=xa, range=list(Y_RANGES[r]),
                            tickvals=Y_TICKS[r], ticklabelstandoff=5,
                            title=dict(text=Y_LABELS[r], standoff=13,
                                       font=dict(family=FONT, size=22, color=AX)))
    annotations.append(dict(
        text=f"<b>Differences between absolute errors of ionPrf and igaPrf | {YEAR} | {st}</b>",
        x=px((x0 + x1) / 2), y=py(TITLE_Y[st]), xref="paper", yref="paper",
        xanchor="center", yanchor="middle", showarrow=False,
        font=dict(family=FONT, size=24.5, color="black")))
    annotations.append(dict(
        text="×10<sup>6</sup>", x=px(x0 + 1), y=py(ROWS[st][1][0] - 13), xref="paper", yref="paper",
        xanchor="left", yanchor="middle", showarrow=False,
        font=dict(family=FONT, size=23, color=AX)))
    lx, ly = LEGEND_POS[st]
    layout[leg] = dict(x=px(lx - LEG_ITEMW - 10), y=py(ly - 20), xanchor="left", yanchor="top",
                       bgcolor="rgba(0,0,0,0)", borderwidth=0, itemwidth=LEG_ITEMW,
                       tracegroupgap=4,
                       font=dict(family=FONT, size=20, color="black"))

shapes = [
    dict(type="path", xref="paper", yref="paper",
         path=f"M {px(70)},{py(0)} L {px(W)},{py(0)} L {px(W)},{py(10)} L {px(84)},{py(10)} "
              f"Q {px(70)},{py(10)} {px(70)},{py(0)} Z",
         fillcolor="#5a7048", line=dict(width=0)),
    dict(type="line", xref="paper", yref="paper", x0=px(84), x1=1, y0=py(11), y1=py(11),
         line=dict(color="#c9d0c3", width=1.5)),
    dict(type="line", xref="paper", yref="paper", x0=px(1), x1=px(1), y0=0, y1=1,
         line=dict(color="black", width=2.5)),
    dict(type="line", xref="paper", yref="paper", x0=px(46), x1=px(46), y0=0, y1=1,
         line=dict(color="black", width=2.5)),
]

fig.update_layout(**layout)
fig.update_layout(width=W, height=H, margin=dict(l=0, r=0, t=0, b=0),
                  paper_bgcolor="white", plot_bgcolor="white",
                  annotations=annotations, shapes=shapes,
                  font=dict(family=FONT, size=20, color=AX))
fig.write_html("out.html", include_plotlyjs=True, full_html=True,
               config={"displayModeBar": False},
               post_script="document.body.style.margin='0px';")
